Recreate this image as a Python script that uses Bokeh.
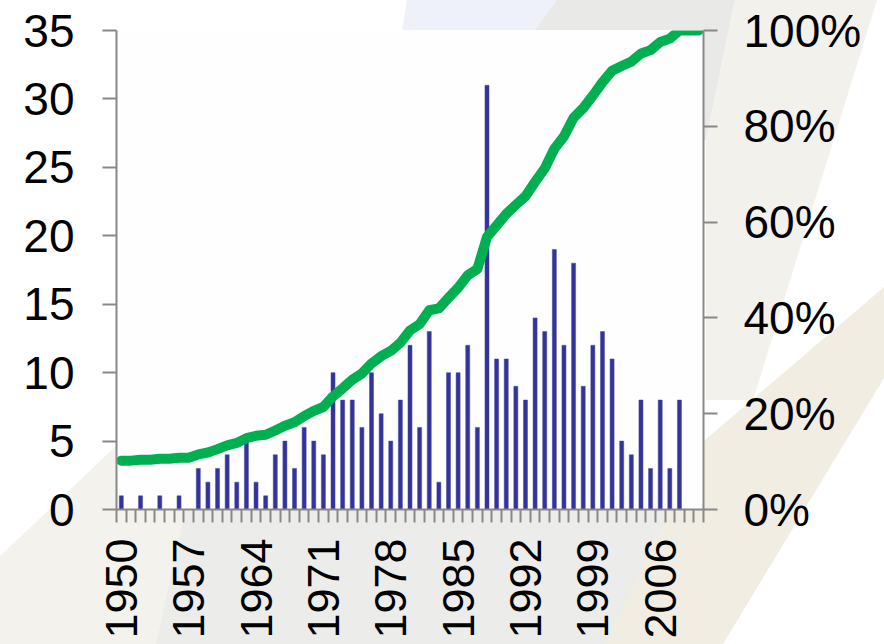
import math
from urllib.parse import quote
from bokeh.plotting import figure
from bokeh.models import Range1d, LinearAxis, FixedTicker, PrintfTickFormatter
from bokeh.embed import file_html
from bokeh.resources import INLINE

years = list(range(1950, 2011))
counts = [1, 0, 1, 0, 1, 0, 1, 0,
          3, 2, 3, 4, 2, 5, 2, 1, 4, 5, 3,
          6, 5, 4,
          10, 8, 8, 6, 10, 7, 5, 8, 12, 6,
          13, 2, 10, 10, 12, 6, 31, 11,
          11, 9, 8, 14, 13, 19, 12, 18, 9, 12,
          13, 11, 5, 4, 8, 3, 8, 3, 8,
          0, 0]
cum_pct = [10.2, 10.2, 10.4, 10.4, 10.6, 10.6, 10.8, 10.8, 11.5, 11.9,
           12.6, 13.4, 13.9, 14.9, 15.4, 15.6, 16.5, 17.5, 18.2, 19.5,
           20.6, 21.4, 23.6, 25.3, 27.1, 28.4, 30.5, 32.0, 33.1, 34.8,
           37.4, 38.7, 41.6, 42.0, 44.2, 46.3, 48.9, 50.2, 56.9, 59.3,
           61.7, 63.6, 65.4, 68.4, 71.2, 75.3, 77.9, 81.8, 83.8, 86.4,
           89.2, 91.6, 92.6, 93.5, 95.2, 95.9, 97.6, 98.3, 100.0, 100.0, 100.0]
label_years = list(range(1950, 2007, 7))
left_ticks = [0, 5, 10, 15, 20, 25, 30, 35]
right_ticks = [0, 20, 40, 60, 80, 100]

FONT = "Liberation Sans"
AXIS_GRAY = "#888888"

W, H = 884, 644

# decorative slide background (page decoration only, not data)
def poly(points, color):
    pts = " ".join(f"{x},{y}" for x, y in points)
    return f'<polygon points="{pts}" fill="{color}"/>'

shapes = [
    poly([(0, 644), (0, 556), (116, 446), (300, 270), (300, 644)], "#f4f2ec"),
    poly([(186, 509), (690, 509), (620, 644), (156, 644)], "#ececea"),
    poly([(605, 644), (723, 644), (884, 378), (884, 287), (705, 440)], "#f1ede3"),
    poly([(407, 0), (557, 0), (535, 30), (402, 30)], "#eef1fa"),
    poly([(557, 0), (735, 0), (706, 140), (700, 140), (700, 30), (535, 30)], "#e9e9e7"),
    poly([(735, 0), (877, 0), (753, 400), (706, 400), (706, 140)], "#f3f1eb"),
]
svg = (f'<svg xmlns="http://www.w3.org/2000/svg" width="{W}" height="{H}">'
       + "".join(shapes) + "</svg>")

p = figure(width=W, height=H, output_backend="svg", toolbar_location=None,
           x_range=Range1d(1949.5, 2010.5), y_range=Range1d(0, 35),
           min_border_left=116, min_border_right=181,
           min_border_top=30, min_border_bottom=135,
           background_fill_color="#fefefe", border_fill_color=None)
p.styles = {"background-image": f'url("data:image/svg+xml;utf8,{quote(svg)}")',
            "background-repeat": "no-repeat"}
p.extra_y_ranges = {"pct": Range1d(0, 100)}
p.outline_line_color = None
p.grid.visible = False

p.vbar(x=years, top=counts, width=0.42, fill_color="#333399",
       line_color="#4a4aa6", line_width=0.5)
p.line(x=years, y=cum_pct, y_range_name="pct", line_color="#00b050",
       line_width=10, line_join="round", line_cap="round")

# left axis
ya = p.yaxis[0]
ya.ticker = FixedTicker(ticks=left_ticks)
ya.major_tick_out = 14
ya.major_tick_in = 0
ya.minor_tick_line_color = None
ya.axis_line_color = AXIS_GRAY
ya.axis_line_width = 2
ya.major_tick_line_color = AXIS_GRAY
ya.major_tick_line_width = 2
ya.major_label_text_font = FONT
ya.major_label_text_font_size = "46px"
ya.major_label_text_color = "#000000"
ya.major_label_standoff = 28

# right axis
ra = LinearAxis(y_range_name="pct", ticker=FixedTicker(ticks=right_ticks),
                formatter=PrintfTickFormatter(format="%d%%"))
ra.major_tick_out = 14
ra.major_tick_in = 0
ra.minor_tick_line_color = None
ra.axis_line_color = AXIS_GRAY
ra.axis_line_width = 2
ra.major_tick_line_color = AXIS_GRAY
ra.major_tick_line_width = 2
ra.major_label_text_font = FONT
ra.major_label_text_font_size = "46px"
ra.major_label_text_color = "#000000"
ra.major_label_standoff = 26
p.add_layout(ra, "right")

# bottom axis
xa = p.xaxis[0]
xa.ticker = FixedTicker(ticks=label_years,
                        minor_ticks=[y - 0.5 for y in years] + [years[-1] + 0.5])
xa.major_tick_line_color = None
xa.major_tick_out = 0
xa.major_tick_in = 0
xa.minor_tick_out = 13
xa.minor_tick_in = 0
xa.minor_tick_line_color = AXIS_GRAY
xa.minor_tick_line_width = 2
xa.axis_line_color = AXIS_GRAY
xa.axis_line_width = 2
xa.major_label_orientation = math.pi / 2
xa.major_label_text_font = FONT
xa.major_label_text_font_size = "45px"
xa.major_label_text_color = "#000000"
xa.major_label_standoff = 16

open("out.html", "w").write(file_html(p, INLINE))
